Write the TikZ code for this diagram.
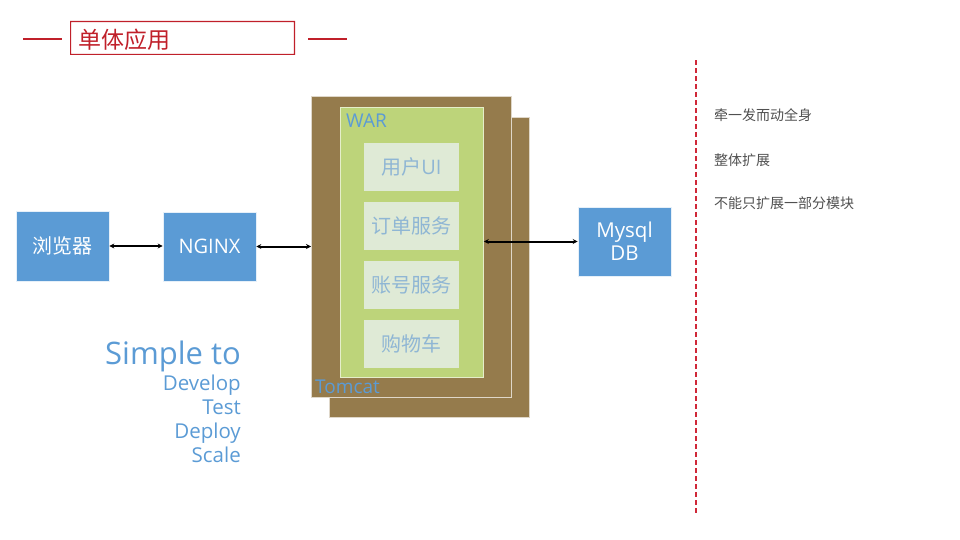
\documentclass[tikz,border=0pt]{standalone}
\usepackage{fontspec}
\setmainfont{Open Sans}
\newfontfamily\cjk{Noto Sans CJK SC}
\usetikzlibrary{arrows.meta}
\definecolor{boxblue}{HTML}{5B9BD5}
\definecolor{tomcatbrown}{HTML}{957B4C}
\definecolor{wargreen}{HTML}{BDD47A}
\definecolor{svcfill}{HTML}{DFEAD6}
\definecolor{svctext}{HTML}{8FB6D4}
\definecolor{titlered}{HTML}{C0202A}
\definecolor{dividerred}{HTML}{D02838}
\definecolor{notegray}{HTML}{505050}
\tikzset{
  bluebox/.style={draw=white!85!boxblue, line width=0.6pt, fill=boxblue, text=white, inner sep=0pt, font=\fontsize{20}{22}\selectfont},
  tomcatbox/.style={draw=white!70!tomcatbrown, line width=0.8pt, fill=tomcatbrown},
  warbox/.style={draw=white!60!wargreen, line width=0.8pt, fill=wargreen},
  svcbox/.style={fill=svcfill, text=svctext, inner sep=0pt, font=\cjk\fontsize{20}{22}\selectfont},
  link/.style={line width=2pt, {Stealth[length=5pt,width=5pt]}-{Stealth[length=5pt,width=5pt]}},
  note/.style={anchor=west, text=notegray, font=\cjk\fontsize{14}{16}\selectfont, inner sep=0pt},
  bluelabel/.style={text=boxblue, inner sep=0pt},
  scalelabel/.style={text=boxblue, inner sep=0pt, anchor=base east, font=\fontsize{20.5}{22}\selectfont}
}
\begin{document}
\begin{tikzpicture}[x=1pt,y=-1pt]
\useasboundingbox (0,0) rectangle (960,540);
% title
\node[minimum width=225pt, minimum height=34pt, anchor=north west, inner sep=0pt] (title) at (70,21) {};
\fill[titlered, even odd rule] (70,21) rectangle (295,55) (71.2,22.2) rectangle (293.8,53.8);
\node[anchor=west, text=titlered, font=\cjk\fontsize{23}{25}\selectfont, inner sep=0pt] (titletext) at (78,40) {单体应用};
\fill[titlered] (23,38.4) rectangle (62,39.6);
\fill[titlered] (308,38.4) rectangle (347,39.6);
% tomcat
\node[tomcatbox, minimum width=200pt, minimum height=300pt, anchor=north west] (tomcatback) at (329,117) {};
\node[tomcatbox, minimum width=200pt, minimum height=301pt, anchor=north west] (tomcat) at (311,96) {};
\node[warbox, minimum width=143pt, minimum height=270pt, anchor=north west] (war) at (340,107) {};
\node[bluelabel, anchor=west, font=\fontsize{19}{21}\selectfont] (warlabel) at (346,121) {WAR};
\node[bluelabel, anchor=west, font=\fontsize{19}{21}\selectfont] (tomcatlabel) at (315,387) {Tomcat};
\node[svcbox, minimum width=95pt, minimum height=48pt] (ui) at (411.5,167) {用户\fontspec{Open Sans}UI};
\node[svcbox, minimum width=95pt, minimum height=48pt] (order) at (411.5,226) {订单服务};
\node[svcbox, minimum width=95pt, minimum height=48pt] (account) at (411.5,285) {账号服务};
\node[svcbox, minimum width=95pt, minimum height=48pt] (cart) at (411.5,344) {购物车};
% left boxes
\node[bluebox, minimum width=93pt, minimum height=70pt, font=\cjk\fontsize{20}{22}\selectfont] (browser) at (62.5,246) {浏览器};
\node[bluebox, minimum width=93pt, minimum height=69pt] (nginx) at (209.5,246.5) {NGINX};
\node[bluebox, minimum width=93pt, minimum height=69pt, align=center, font=\fontsize{20.5}{23}\selectfont] (mysql) at (624.5,241.5) {Mysql\\DB};
% links
\draw[link] (browser.east) -- (nginx.west |- browser.east);
\draw[link] (nginx.east) -- (tomcat.west |- nginx.east);
\draw[link] (war.east |- mysql.west) -- (mysql.west);
% simple to
\node[text=boxblue, inner sep=0pt, anchor=base east, font=\fontsize{31}{33}\selectfont] (simple) at (241,364) {Simple to};
\node[scalelabel] (develop) at (241,390) {Develop};
\node[scalelabel] (test) at (241,414) {Test};
\node[scalelabel] (deploy) at (241,438) {Deploy};
\node[scalelabel] (scale) at (241,462) {Scale};
% divider
\foreach \yy in {60,68,...,508} {
  \fill[dividerred] (694.5,\yy) rectangle (697,\yy+5);
}
% notes
\node[note] (n1) at (714,115) {牵一发而动全身};
\node[note] (n2) at (714,160) {整体扩展};
\node[note] (n3) at (714,203) {不能只扩展一部分模块};
\end{tikzpicture}
\end{document}
